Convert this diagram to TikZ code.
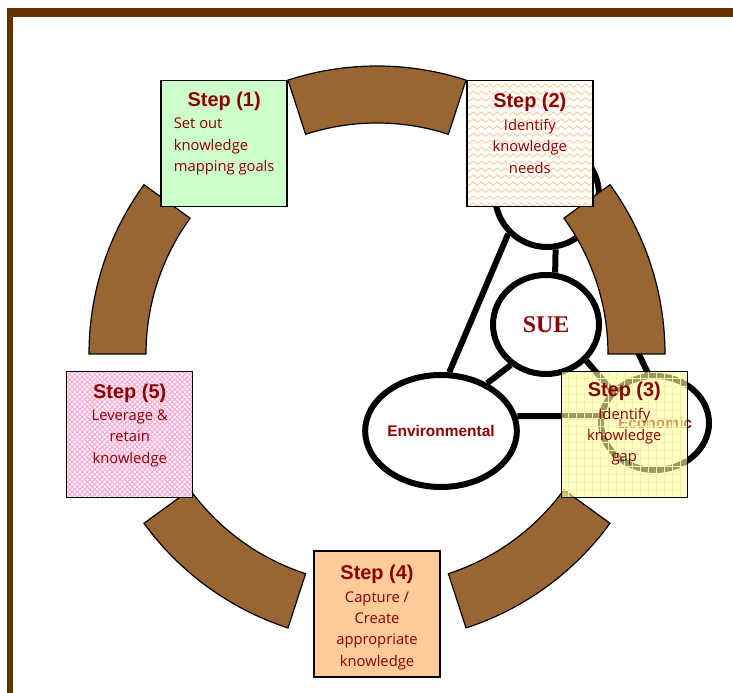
\documentclass[tikz,border=0pt]{standalone}
\usepackage{fontspec}
\newfontfamily\bodyfont{Open Sans}
\newfontfamily\headfont{Liberation Sans}
\newfontfamily\suefont{Liberation Serif}
\usetikzlibrary{shapes.geometric,positioning,calc,backgrounds,decorations.pathmorphing}

\definecolor{framebrown}{HTML}{663300}
\definecolor{segbrown}{HTML}{996633}
\definecolor{stepred}{HTML}{8B0000}
\definecolor{mintbox}{HTML}{CCFFCC}
\definecolor{peachbox}{HTML}{FFCC99}
\definecolor{wavecol}{HTML}{FFCFA0}
\definecolor{lemonbox}{HTML}{FFFFA0}
\definecolor{gridcol}{HTML}{F4F2A8}
\definecolor{pinkline}{HTML}{FFA8D4}

\tikzset{
  ringseg/.style={fill=segbrown, draw=black, line width=1.2bp},
  blob/.style={ellipse, draw, line width=6bp, fill=white, inner sep=0pt, text=stepred,
    font=\headfont\bfseries\fontsize{15.5}{18}\selectfont},
  link/.style={line width=6bp},
  stepbox/.style={draw, line width=1.5bp, minimum width=126bp, minimum height=126bp, inner sep=0pt},
  steptitle/.style={text=stepred, inner sep=0pt, font=\headfont\bfseries\fontsize{20}{24}\selectfont},
  stepbody/.style={text=stepred, inner sep=0pt, align=center, font=\bodyfont\fontsize{14.8}{21.5}\selectfont},
  wavy/.style={path picture={
    \foreach \k in {0,...,18}
      \draw[wavecol, line width=1bp, decorate, decoration={snake, segment length=8bp, amplitude=1.6bp}]
        ([yshift=\k*7bp+2bp, xshift=-4bp]path picture bounding box.south west) -- ++(140bp,0);}},
  gridded/.style={path picture={
    \draw[gridcol, line width=0.5bp] (path picture bounding box.south west) grid[step=8bp] (path picture bounding box.north east);}},
  woven/.style={path picture={
    \foreach \k in {-26,...,26}
      \draw[pinkline, line width=1.1bp] ([xshift=\k*5bp]path picture bounding box.south west) -- ++(130bp,130bp)
        ([xshift=\k*5bp]path picture bounding box.north west) -- ++(130bp,-130bp);}},
}

\begin{document}
\begin{tikzpicture}[x=1bp,y=1bp]
\useasboundingbox (0,0) rectangle (733,693);

% brown frame along top and left
\fill[framebrown] (7,676) rectangle (733,685);
\fill[framebrown] (7,0) rectangle (13,685);

% the sustainability circles
\node[blob, minimum width=104bp, minimum height=104bp] (social) at (547,498) {};
\node[blob, minimum width=106bp, minimum height=99bp, font=\suefont\bfseries\fontsize{24}{28}\selectfont] (sue) at (546,368.5) {SUE};
\node[blob, minimum width=146bp, minimum height=112bp] (env) at (441,262) {Environmental};
\node[blob, minimum width=108bp, minimum height=94bp] (econ) at (655,270) {Economic};

\begin{pgfonlayer}{background}
\draw[link] (social.225) -- (env.82);
\draw[link] (social.-50) -- (econ.98);
\draw[link] (env.11) -- (econ.173);
\draw[link] (sue.80) -- (social.-81);
\draw[link] (sue.229) -- (env.46);
\draw[link] (sue.318) -- (econ.143);
\end{pgfonlayer}

% the broken ring
\coordinate (c) at (377,339);
\foreach \a in {0,72,...,288}
  \filldraw[ringseg] ($(c)+(\a:231)$) -- ($(c)+(\a:288)$) arc[start angle=\a, delta angle=36, radius=288]
    -- ($(c)+(\a+36:231)$) arc[start angle=\a+36, delta angle=-36, radius=231] -- cycle;

% the five steps
\node[stepbox, fill=mintbox] (s1) at ($(c)+(126:260)$) {};
\node[stepbox, fill=white, wavy] (s2) at ($(c)+(54:260)$) {};
\node[stepbox, fill=lemonbox, fill opacity=0.6, gridded] (s3) at ($(c)+(342:260)$) {};
\node[stepbox, fill=peachbox] (s4) at ($(c)+(270:260)$) {};
\node[stepbox, fill=white, woven] (s5) at ($(c)+(198:260)$) {};

\node[steptitle, below=12bp of s1.north] (h1) {Step (1)};
\node[stepbody, align=left, below=7bp of h1] (b1) {Set out\\knowledge\\mapping goals};
\node[steptitle, below=13bp of s2.north] (h2) {Step (2)};
\node[stepbody, below=7bp of h2] (b2) {Identify\\knowledge\\needs};
\node[steptitle, below=11bp of s3.north] (h3) {Step (3)};
\node[stepbody, below=7bp of h3] (b3) {Identify\\knowledge\\gap};
\node[steptitle, below=15bp of s4.north] (h4) {Step (4)};
\node[stepbody, below=7bp of h4] (b4) {Capture /\\Create\\appropriate\\knowledge};
\node[steptitle, below=13bp of s5.north] (h5) {Step (5)};
\node[stepbody, below=7bp of h5] (b5) {Leverage \&\\retain\\knowledge};
\end{tikzpicture}
\end{document}
